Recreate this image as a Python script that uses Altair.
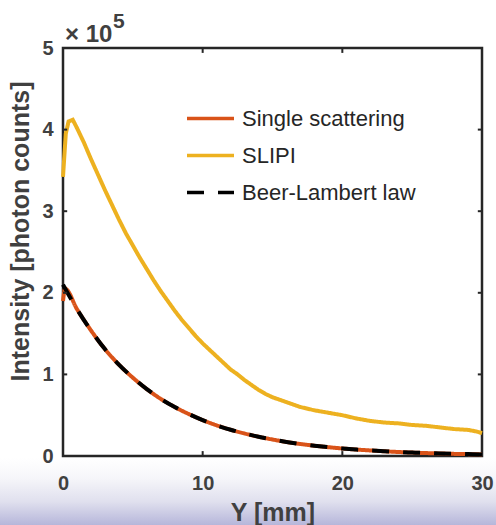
import altair as alt
import pandas as pd

# ---------------- data (intensity in units of 1e5 photon counts) ----------------
series_names = ["Single scattering", "SLIPI", "Beer-Lambert law"]
series_colors = ["#D95319", "#EDB120", "#000000"]

x_ss = [0, 0.15, 1, 2, 3, 4, 5, 6, 7, 8, 9, 10, 11, 12, 13, 14, 15, 16, 17, 18, 19, 20,
        21, 22, 23, 24, 25, 26, 27, 28, 29, 30]
y_ss = [1.90, 2.05, 1.80, 1.54, 1.31, 1.12, 0.96, 0.82, 0.70, 0.60, 0.515, 0.44, 0.376, 0.322,
        0.276, 0.236, 0.202, 0.172, 0.147, 0.126, 0.108, 0.092, 0.079, 0.068, 0.058, 0.049,
        0.042, 0.036, 0.031, 0.026, 0.023, 0.019]

x_slipi = [0, 0.2, 0.4, 0.7, 1.0, 1.5, 2.0, 2.5, 3.0, 3.5, 4.0, 4.5, 5.0, 5.5, 6.0, 6.5, 7.0,
           7.5, 8.0, 8.5, 9.0, 9.5, 10, 10.5, 11, 11.5, 12, 12.5, 13, 13.5, 14, 14.5, 15, 16,
           17, 18, 19, 20, 21, 22, 23, 24, 25, 26, 27, 28, 29, 29.6, 30]
y_slipi = [3.42, 3.95, 4.10, 4.12, 4.02, 3.84, 3.64, 3.45, 3.26, 3.08, 2.90, 2.73, 2.58, 2.43,
           2.29, 2.15, 2.02, 1.90, 1.78, 1.67, 1.57, 1.47, 1.38, 1.30, 1.22, 1.14, 1.06, 1.00,
           0.93, 0.87, 0.81, 0.76, 0.72, 0.66, 0.60, 0.56, 0.53, 0.50, 0.46, 0.43, 0.41, 0.40,
           0.38, 0.37, 0.35, 0.33, 0.32, 0.30, 0.28]

x_bl = [0, 1, 2, 3, 4, 5, 6, 7, 8, 9, 10, 11, 12, 13, 14, 15, 16, 17, 18, 19, 20,
        21, 22, 23, 24, 25, 26, 27, 28, 29, 30]
y_bl = [2.10, 1.80, 1.54, 1.31, 1.12, 0.96, 0.82, 0.70, 0.60, 0.515, 0.44, 0.376, 0.322,
        0.276, 0.236, 0.202, 0.172, 0.147, 0.126, 0.108, 0.092, 0.079, 0.068, 0.058, 0.049,
        0.042, 0.036, 0.031, 0.026, 0.023, 0.019]

x_ticks = [0, 10, 20, 30]
y_ticks = [0, 1, 2, 3, 4, 5]

# ---------------- styling ----------------
FONT = "Liberation Sans"
TXT = "#404040"
W, H = 419, 408
TICK_X = 0.3   # inward tick length on y axes (mm)
TICK_Y = 0.06  # inward tick length on x axes (1e5 counts)

df = pd.concat([
    pd.DataFrame({"x": x_ss, "y": y_ss, "series": series_names[0]}),
    pd.DataFrame({"x": x_slipi, "y": y_slipi, "series": series_names[1]}),
    pd.DataFrame({"x": x_bl, "y": y_bl, "series": series_names[2]}),
], ignore_index=True)

xs = alt.Scale(domain=[x_ticks[0], x_ticks[-1]], nice=False)
ys = alt.Scale(domain=[y_ticks[0], y_ticks[-1]], nice=False)

legend = alt.Legend(orient="none", legendX=122, legendY=45, title=None,
                    symbolType="stroke", symbolSize=2209, symbolStrokeWidth=3.5,
                    labelFont=FONT, labelFontSize=22, labelColor="#262626",
                    labelOffset=6, rowPadding=-6, padding=0, labelLimit=300)

color_enc = alt.Color("series:N", scale=alt.Scale(domain=series_names, range=series_colors),
                      legend=legend)
dash_enc = alt.StrokeDash("series:N",
                          scale=alt.Scale(domain=series_names, range=[[1, 0], [1, 0], [17, 14]]),
                          legend=legend)

x_enc = alt.X("x:Q", scale=xs, title="Y [mm]",
              axis=alt.Axis(values=x_ticks, format="d", labelPadding=17, titlePadding=7,
                            labelFlush=False, zindex=2))
y_enc = alt.Y("y:Q", scale=ys, title="Intensity [photon counts]",
              axis=alt.Axis(values=y_ticks, format="d", labelPadding=10, titlePadding=8,
                            titleY=183, zindex=2))

base = alt.Chart(df)

def series_layer(name, width, interp):
    return base.transform_filter(alt.datum.series == name).mark_line(
        strokeWidth=width, interpolate=interp, strokeCap="butt"
    ).encode(x=x_enc, y=y_enc, color=color_enc, strokeDash=dash_enc)

l_ss = series_layer(series_names[0], 4, "monotone")
l_slipi = series_layer(series_names[1], 4, "linear")
l_bl = series_layer(series_names[2], 4, "monotone")

# inward ticks on all four sides
tick_rows = []
for t in x_ticks[1:-1]:
    tick_rows.append({"x": t, "x2": t, "y": y_ticks[0], "y2": y_ticks[0] + TICK_Y})
    tick_rows.append({"x": t, "x2": t, "y": y_ticks[-1] - TICK_Y, "y2": y_ticks[-1]})
for t in y_ticks[1:-1]:
    tick_rows.append({"x": x_ticks[0], "x2": x_ticks[0] + TICK_X, "y": t, "y2": t})
    tick_rows.append({"x": x_ticks[-1] - TICK_X, "x2": x_ticks[-1], "y": t, "y2": t})
ticks = alt.Chart(pd.DataFrame(tick_rows)).mark_rule(color="#262626", strokeWidth=2).encode(
    x=alt.X("x:Q", scale=xs), x2="x2", y=alt.Y("y:Q", scale=ys), y2="y2")

one = pd.DataFrame({"k": [0]})
bg = alt.Chart(one).mark_rect(
    fill=alt.Gradient(gradient="linear", x1=0, x2=0, y1=0, y2=1,
                      stops=[alt.GradientStop(offset=0, color="#ffffff"),
                             alt.GradientStop(offset=0.3, color="#f6f6fa"),
                             alt.GradientStop(offset=0.65, color="#e0e0ee"),
                             alt.GradientStop(offset=1, color="#b6b6da")])
).encode(x=alt.value(-63), x2=alt.value(433), y=alt.value(410), y2=alt.value(477))

exp_main = alt.Chart(one).mark_text(text="× 10", font=FONT, fontWeight="bold", fontSize=24,
                                    color=TXT, align="left", baseline="alphabetic").encode(
    x=alt.value(2), y=alt.value(-6))
exp_sup = alt.Chart(one).mark_text(text="5", font=FONT, fontWeight="bold", fontSize=21,
                                   color=TXT, align="left", baseline="alphabetic").encode(
    x=alt.value(50), y=alt.value(-20))

chart = alt.layer(bg, l_ss, l_slipi, l_bl, ticks, exp_main, exp_sup).properties(
    width=W, height=H,
    autosize=alt.AutoSizeParams(type="none"),
    padding={"left": 63, "top": 48, "right": 14, "bottom": 69},
    background="white",
).configure_view(stroke="#262626", strokeWidth=2.5).configure_axis(
    grid=False, ticks=False, domain=False,
    labelFont=FONT, labelFontSize=20, labelFontWeight="bold", labelColor=TXT,
    titleFont=FONT, titleFontSize=25, titleFontWeight="bold", titleColor=TXT,
    labelOverlap=False,
)

chart.save("out.html", embed_options={"renderer": "svg", "actions": False})
